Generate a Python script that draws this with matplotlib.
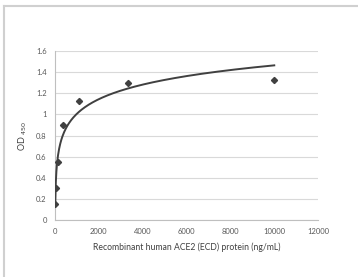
import matplotlib
matplotlib.use('Agg')
import matplotlib.pyplot as plt
import numpy as np

plt.rcParams['font.family'] = ['Lato', 'DejaVu Sans']

# measured points (ng/mL, OD450)
conc = [13.7, 41.2, 123, 370, 1111, 3333, 10000]
od = [0.15, 0.30, 0.55, 0.90, 1.13, 1.30, 1.33]
x_ticks = [0, 2000, 4000, 6000, 8000, 10000, 12000]
y_ticks = [0, 0.2, 0.4, 0.6, 0.8, 1, 1.2, 1.4, 1.6]
y_ticklabels = ['0', '0.2', '0.4', '0.6', '0.8', '1', '1.2', '1.4', '1.6']

# logarithmic trendline, like excel
a, b = np.polyfit(np.log(conc), od, 1)
xs = np.linspace(min(conc), max(conc), 400)
ys = a * np.log(xs) + b

fig = plt.figure(figsize=(3.58, 2.77), dpi=100)
ax = fig.add_axes([0.1536, 0.2058, 0.735, 0.610])

txt = '#595959'
ax.plot(xs, ys, '-', color='#404040', lw=1.4, zorder=3)
ax.plot(conc, od, 'D', color='#404040', ms=3.1, zorder=4)

ax.set_xlim(0, 12000)
ax.set_ylim(0, 1.6)
ax.set_xticks(x_ticks)
ax.set_yticks(y_ticks)
ax.set_yticklabels(y_ticklabels)
ax.tick_params(length=0, labelsize=5.5, labelcolor=txt, pad=6)
ax.grid(axis='y', color='#d9d9d9', lw=0.8)
ax.set_axisbelow(True)
for s in ['top', 'right']:
    ax.spines[s].set_visible(False)
for s in ['left', 'bottom']:
    ax.spines[s].set_color('#bfbfbf')
    ax.spines[s].set_linewidth(0.8)

ax.set_xlabel('Recombinant human ACE2 (ECD) protein (ng/mL)', fontsize=6.2,
              color='#404040', labelpad=5)
ax.set_ylabel(r'OD $_{450}$', fontsize=6.5, color='#404040', labelpad=5)

# frame lines of the original picture
fig.add_artist(plt.Line2D([4/358, 4/358], [0, 1 - 6/277], color='#d0d0d0', lw=1.5))
fig.add_artist(plt.Line2D([4/358, 1], [1 - 6/277, 1 - 6/277], color='#d0d0d0', lw=1.5))

fig.savefig('out.png', dpi=100)
